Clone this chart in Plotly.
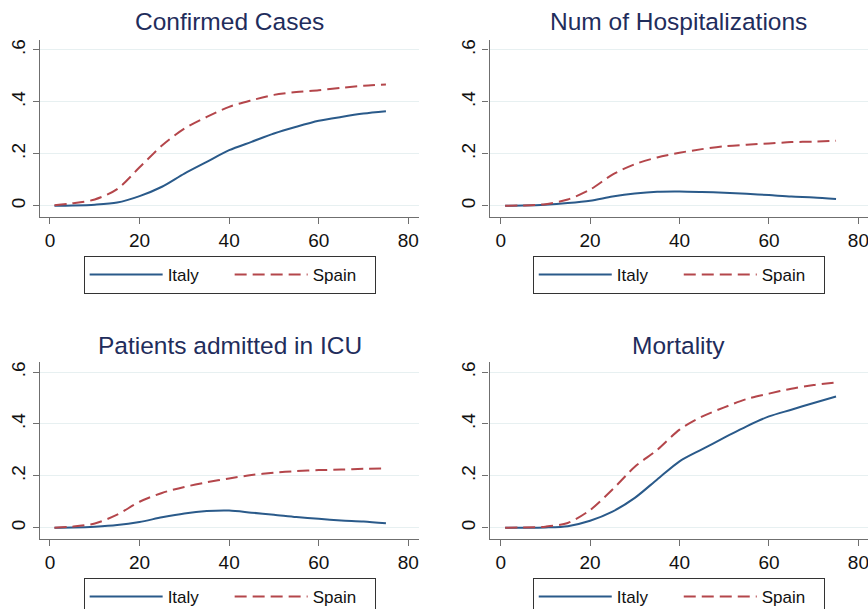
import plotly.graph_objects as go

# ---------------- data ----------------
days = [1, 5, 10, 15, 20, 25, 30, 35, 40, 45, 50, 55, 60, 65, 70, 75]

cases_italy = [0.0, 0.001, 0.004, 0.012, 0.037, 0.073, 0.124, 0.169, 0.214, 0.246, 0.278, 0.304, 0.327, 0.342, 0.355, 0.364]
cases_spain = [0.002, 0.009, 0.024, 0.064, 0.148, 0.232, 0.297, 0.342, 0.381, 0.406, 0.427, 0.438, 0.445, 0.454, 0.462, 0.467]

hosp_italy = [0.0, 0.001, 0.004, 0.010, 0.019, 0.035, 0.047, 0.054, 0.055, 0.053, 0.050, 0.046, 0.041, 0.035, 0.032, 0.026]
hosp_spain = [0.0, 0.001, 0.006, 0.024, 0.062, 0.120, 0.160, 0.186, 0.204, 0.218, 0.229, 0.235, 0.240, 0.245, 0.247, 0.250]

icu_italy = [0.0, 0.001, 0.004, 0.010, 0.022, 0.040, 0.055, 0.064, 0.066, 0.058, 0.050, 0.041, 0.034, 0.028, 0.024, 0.017]
icu_spain = [0.0, 0.004, 0.016, 0.050, 0.100, 0.134, 0.157, 0.175, 0.190, 0.203, 0.212, 0.218, 0.222, 0.224, 0.227, 0.228]

mort_italy = [0.0, 0.0, 0.001, 0.006, 0.027, 0.062, 0.115, 0.186, 0.256, 0.302, 0.347, 0.391, 0.429, 0.455, 0.481, 0.506]
mort_spain = [0.0, 0.001, 0.004, 0.018, 0.068, 0.147, 0.235, 0.300, 0.378, 0.428, 0.464, 0.496, 0.517, 0.536, 0.550, 0.560]

titles = ["Confirmed Cases", "Num of Hospitalizations", "Patients admitted in ICU", "Mortality"]
series_names = ["Italy", "Spain"]
x_tickvals = [0, 20, 40, 60, 80]
y_tickvals = [0, 0.2, 0.4, 0.6]
y_ticktext = ["0", ".2", ".4", ".6"]

panels = [
    (cases_italy, cases_spain),
    (hosp_italy, hosp_spain),
    (icu_italy, icu_spain),
    (mort_italy, mort_spain),
]

# ---------------- layout geometry ----------------
W, H = 868, 609
ITALY_COLOR = "#2a5a8a"
SPAIN_COLOR = "#b4464b"
TITLE_COLOR = "#1f2d5c"
GRID_COLOR = "#e7f0f1"
AXIS_COLOR = "#6f6f6f"
FONT = "Liberation Sans, Arial, Helvetica, sans-serif"

# (x domain px, y domain px (top, bottom), x range, y range)
geo = [
    ((40, 419.3), (40, 216.7), (-2.23, 82.45), (-0.0424, 0.6385)),
    ((489.5, 868), (40, 216.7), (-2.5, 82.15), (-0.0424, 0.6385)),
    ((40, 419.3), (361.7, 539), (-2.23, 82.45), (-0.0436, 0.640)),
    ((489.5, 868), (361.7, 539), (-2.5, 82.15), (-0.0436, 0.640)),
]
title_y_px = [22, 22, 345, 345]
legend_top_px = [256, 256, 578, 578]

fig = go.Figure()
layout = dict(
    width=W, height=H,
    margin=dict(l=0, r=0, t=0, b=0, autoexpand=False),
    paper_bgcolor="white", plot_bgcolor="white",
    font=dict(family=FONT, color="#111111"),
    annotations=[],
)

for i, (ita, esp) in enumerate(panels):
    n = "" if i == 0 else str(i + 1)
    xa, ya = "x" + n, "y" + n
    leg = "legend" + n
    (x0, x1), (yt, yb), xr, yr = geo[i]
    fig.add_trace(go.Scatter(
        x=days, y=ita, mode="lines", name=series_names[0],
        line=dict(color=ITALY_COLOR, width=2, shape="spline", smoothing=0.8),
        xaxis=xa, yaxis=ya, legend=leg, showlegend=True))
    fig.add_trace(go.Scatter(
        x=days, y=esp, mode="lines", name=series_names[1],
        line=dict(color=SPAIN_COLOR, width=2, dash="12px,6px", shape="spline", smoothing=0.8),
        xaxis=xa, yaxis=ya, legend=leg, showlegend=True))

    xkey = "xaxis" + n
    ykey = "yaxis" + n
    layout[xkey] = dict(
        domain=[x0 / W, min(x1 / W, 1.0)], range=list(xr), anchor=ya,
        tickvals=x_tickvals, ticks="outside", ticklen=6, tickwidth=1.3,
        tickcolor=AXIS_COLOR, showline=True, linecolor=AXIS_COLOR, linewidth=1.3,
        showgrid=False, zeroline=False, automargin=False, ticklabeloverflow="allow",
        tickfont=dict(size=19, color="#111111", family=FONT),
    )
    layout[ykey] = dict(
        domain=[(H - yb) / H, (H - yt) / H], range=list(yr), anchor=xa,
        tickvals=y_tickvals, ticktext=y_ticktext, tickangle=-90,
        ticks="outside", ticklen=6, tickwidth=1.3, tickcolor=AXIS_COLOR,
        showline=True, linecolor=AXIS_COLOR, linewidth=1.3,
        showgrid=True, gridcolor=GRID_COLOR, gridwidth=1.3, zeroline=False,
        automargin=False, ticklabeloverflow="allow",
        tickfont=dict(size=19, color="#111111", family=FONT),
    )
    cx = (x0 + x1) / 2
    layout["annotations"].append(dict(
        text=titles[i], xref="paper", yref="paper",
        x=cx / W, y=(H - title_y_px[i]) / H, xanchor="center", yanchor="middle",
        showarrow=False, font=dict(size=24.5, color=TITLE_COLOR, family=FONT)))
    layout[leg] = dict(
        orientation="h", x=cx / W, xanchor="center",
        y=(H - legend_top_px[i]) / H, yanchor="top",
        bordercolor="#333333", borderwidth=1, bgcolor="white",
        font=dict(size=17, color="#111111", family=FONT),
        itemwidth=73, entrywidth=57, entrywidthmode="pixels", traceorder="normal",
    )

fig.update_layout(**layout)
fig.write_html(
    "out.html",
    config={"displayModeBar": False},
    post_script="document.body.style.margin='0';document.body.style.padding='0';",
)
